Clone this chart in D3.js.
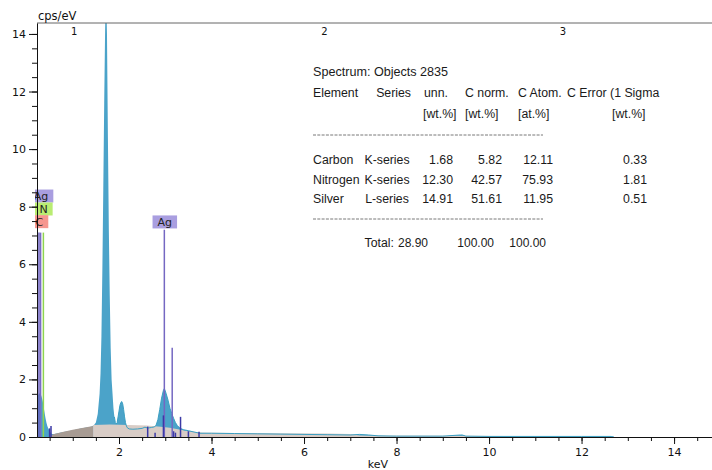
<!DOCTYPE html>
<html>
<head>
<meta charset="utf-8">
<script src="https://cdn.jsdelivr.net/npm/d3@7"></script>
<style>
body{margin:0;background:#fff}
svg{display:block}
</style>
</head>
<body>
<div id="chart"></div>
<script>
// measured spectrum (keV, cps/eV)
const energy = [0.23,0.25,0.27,0.29,0.31,0.33,0.35,0.37,0.39,0.41,0.43,0.45,0.47,0.49,0.51,0.53,0.55,
  0.6,0.7,0.8,0.9,1.0,1.1,1.2,1.3,1.4,
  1.46,1.50,1.54,1.58,
  1.60,1.62,1.64,1.66,1.68,1.70,1.72,1.74,1.76,1.78,1.80,1.82,1.84,1.86,1.88,1.90,1.92,1.94,1.96,1.98,
  2.00,2.02,2.04,2.06,2.08,2.10,2.12,2.14,2.16,2.18,
  2.22,2.30,2.40,2.50,2.56,2.62,2.70,2.76,2.80,2.84,2.88,2.92,2.96,2.98,3.00,3.02,3.06,3.10,3.14,3.18,3.22,3.26,3.32,3.40,3.50,3.60,3.75,
  4.0,4.5,5.0,5.5,6.0,6.5,7.0,7.2,7.4,7.6,8.0,9.0,9.38,9.42,9.5,10,12,12.64,12.7,14.8];
const counts = [1.3,1.45,1.5,1.52,1.48,1.38,1.25,1.05,0.85,0.66,0.5,0.38,0.3,0.24,0.18,0.13,0.1,
  0.1,0.14,0.17,0.2,0.23,0.27,0.3,0.33,0.36,
  0.42,0.5,0.8,1.5,
  2.2,3.5,5.8,8.6,11.6,14.2,15.4,14.0,10.4,7.2,4.9,3.1,2.0,1.5,1.0,0.7,0.5,0.45,0.5,0.7,
  0.9,1.1,1.2,1.23,1.15,0.95,0.7,0.5,0.38,0.32,
  0.28,0.27,0.28,0.3,0.34,0.31,0.33,0.35,0.4,0.6,0.95,1.35,1.62,1.68,1.6,1.5,1.28,1.0,0.82,0.65,0.5,0.4,0.3,0.25,0.22,0.18,0.13,
  0.13,0.12,0.11,0.1,0.09,0.08,0.07,0.09,0.07,0.04,0.03,0.03,0.07,0.07,0.03,0.02,0.02,0.02,0,0];

// background (bremsstrahlung) fit, two shaded regions
const bgLowE = [0.5,0.6,0.8,1.0,1.2,1.44];
const bgLowC = [0.04,0.1,0.18,0.25,0.31,0.38];
const bgHighE = [1.44,1.8,2.2,2.6,2.9,3.1,3.3,3.5,3.8,4.5,5.5,6.5,7.0,7.2,9.0,11.0,12.64];
const bgHighC = [0.42,0.43,0.42,0.4,0.36,0.32,0.26,0.2,0.16,0.14,0.13,0.12,0.1,0.05,0.04,0.03,0.03];

// element lines
const lineEnergy = [0.27,0.305,0.365,2.98,3.15];
const lineHeight = [7.1,7.1,7.1,7.2,3.1];
const lineColor  = ["#6a5fbe","#7a6cc6","#8fd44f","#7568c2","#7568c2"];
const minorEnergy = [0.5,0.53,2.62,2.78,2.96,3.18,3.22,3.33,3.5,3.73];
const minorHeight = [0.3,0.38,0.36,0.15,0.75,0.2,0.15,0.7,0.2,0.18];

// element labels
const labelText   = ["Ag","N","C","Ag"];
const labelEnergy = [0.315,0.368,0.28,2.99];
const labelLevel  = [8.37,7.92,7.48,7.47];
const labelFill   = ["#a99ee0","#b9ec72","#f6968f","#a99ee0"];

const topMarks = ["1","2","3"];
const topMarkEnergy = [1.03,6.44,11.6];

// quantification table
const tableTitle = "Spectrum: Objects 2835";
const tableHead1 = ["Element","Series","unn.","C norm.","C Atom.","C Error (1 Sigma"];
const tableHead2 = ["[wt.%]","[wt.%]","[at.%]","[wt.%]"];
const tableElements = ["Carbon","Nitrogen","Silver"];
const tableSeries = ["K-series","K-series","L-series"];
const tableUnn = ["1.68","12.30","14.91"];
const tableNorm = ["5.82","42.57","51.61"];
const tableAtom = ["12.11","75.93","11.95"];
const tableErr = ["0.33","1.81","0.51"];
const tableTotal = ["Total:","28.90","100.00","100.00"];

const width = 712, height = 470;
const margin = {top: 23, right: 0, bottom: 33, left: 37};

const x = d3.scaleLinear().domain([0.227, 14.82]).range([margin.left, width - margin.right]);
const y = d3.scaleLinear().domain([0, 14.38]).range([height - margin.bottom, margin.top]);

const svg = d3.select("#chart").append("svg")
  .attr("width", width).attr("height", height)
  .style("font-family", "'DejaVu Sans', sans-serif");

svg.append("clipPath").attr("id", "plot-clip")
  .append("rect")
  .attr("x", margin.left).attr("y", margin.top)
  .attr("width", width - margin.left - margin.right)
  .attr("height", height - margin.top - margin.bottom);

const plot = svg.append("g").attr("clip-path", "url(#plot-clip)");

const spectrum = energy.map((e, i) => ({e: e, c: counts[i]}));
const bgLow = bgLowE.map((e, i) => ({e: e, c: bgLowC[i]}));
const bgHigh = bgHighE.map((e, i) => ({e: e, c: bgHighC[i]}));

const area = d3.area().x(d => x(d.e)).y0(y(0)).y1(d => y(d.c));
const line = d3.line().x(d => x(d.e)).y(d => y(d.c));

plot.append("path").datum(spectrum)
  .attr("d", area)
  .attr("fill", "#4ba3c9");

plot.append("path").datum(bgLow).attr("d", area).attr("fill", "#a79b93");
plot.append("path").datum(bgHigh).attr("d", area).attr("fill", "#d8ccc6");

plot.append("path").datum(spectrum.filter(d => d.e >= 1.9 && d.e <= 12.7))
  .attr("d", line)
  .attr("fill", "none")
  .attr("stroke", "#3b9fc2")
  .attr("stroke-width", 1);

// element lines
plot.selectAll("line.el")
  .data(lineEnergy)
  .join("line")
  .attr("class", "el")
  .attr("x1", d => x(d)).attr("x2", d => x(d))
  .attr("y1", y(0)).attr("y2", (d, i) => y(lineHeight[i]))
  .attr("stroke", (d, i) => lineColor[i])
  .attr("stroke-width", 1.5);

plot.selectAll("line.minor")
  .data(minorEnergy)
  .join("line")
  .attr("class", "minor")
  .attr("x1", d => x(d)).attr("x2", d => x(d))
  .attr("y1", y(0)).attr("y2", (d, i) => y(minorHeight[i]))
  .attr("stroke", "#3c3aa6")
  .attr("stroke-width", 1.5);

// labels (clipped a little left of the axis)
svg.append("clipPath").attr("id", "label-clip")
  .append("rect").attr("x", 35).attr("y", 0).attr("width", width).attr("height", height);

const labels = svg.append("g").attr("clip-path", "url(#label-clip)")
  .selectAll("g").data(labelText).join("g")
  .attr("transform", (d, i) => `translate(${x(labelEnergy[i])},${y(labelLevel[i])})`);

labels.append("text")
  .attr("class", "lbl")
  .attr("text-anchor", "middle")
  .attr("dy", "0.35em")
  .attr("font-size", 11)
  .attr("fill", "#222")
  .text(d => d);

labels.each(function(d, i) {
  const g = d3.select(this);
  const w = g.select("text").node().getComputedTextLength() + 10;
  g.insert("rect", "text")
    .attr("x", -w / 2).attr("y", -6.5)
    .attr("width", w).attr("height", 13)
    .attr("fill", labelFill[i]);
});

// axes
const yMajor = d3.axisLeft(y).tickValues(d3.range(0, 14.01, 2)).tickSize(8).tickSizeOuter(0);
const yMinor = d3.axisLeft(y).tickValues(d3.range(0.5, 14.01, 0.5)).tickSize(5).tickSizeOuter(0).tickFormat("");
const xMajor = d3.axisBottom(x).tickValues(d3.range(2, 14.01, 2)).tickSize(7).tickSizeOuter(0);
const xMinor = d3.axisBottom(x).tickValues(d3.range(0.5, 14.76, 0.5)).tickSize(4).tickSizeOuter(0).tickFormat("");

const gy = svg.append("g").attr("transform", `translate(${margin.left},0)`);
gy.call(yMinor);
gy.append("g").call(yMajor);
const gx = svg.append("g").attr("transform", `translate(0,${height - margin.bottom})`);
gx.call(xMinor);
gx.append("g").call(xMajor);

svg.selectAll(".tick text").attr("font-size", 11).attr("fill", "#111").attr("font-family", "'DejaVu Sans', sans-serif");
gy.selectAll(".tick text").attr("x", -11);
gx.selectAll(".tick text").attr("y", 11);
svg.selectAll(".domain, .tick line").attr("stroke", "#111");

// top frame line
svg.append("line")
  .attr("x1", margin.left).attr("x2", width)
  .attr("y1", margin.top).attr("y2", margin.top)
  .attr("stroke", "#666").attr("stroke-width", 1);

svg.append("text").attr("x", 38).attr("y", 20).attr("font-size", 11.5).attr("fill", "#111").text("cps/eV");
svg.append("text").attr("x", 378).attr("y", 468).attr("font-size", 11).attr("text-anchor", "middle").attr("fill", "#111").text("keV");

svg.selectAll("text.top").data(topMarks).join("text")
  .attr("class", "top")
  .attr("x", (d, i) => x(topMarkEnergy[i]))
  .attr("y", 35)
  .attr("text-anchor", "middle")
  .attr("font-size", 10)
  .attr("fill", "#111")
  .text(d => d);

// table
const table = svg.append("g")
  .style("font-family", "'Liberation Sans', Arial, sans-serif")
  .style("font-size", "12.3px")
  .attr("fill", "#1a1a1a");

const cell = (t, px, py, anchor) => table.append("text").attr("x", px).attr("y", py).attr("text-anchor", anchor || "start").text(t);

cell(tableTitle, 313, 76).style("font-size", "12.6px");
const head1X = [313, 411, 424, 465, 518, 567];
const head1A = ["start", "end", "start", "start", "start", "start"];
tableHead1.forEach((t, i) => cell(t, head1X[i], 96.5, head1A[i]));
const head2X = [423, 465, 518, 612];
tableHead2.forEach((t, i) => cell(t, head2X[i], 117.5));

const dash = (py) => table.append("line")
  .attr("x1", 313).attr("x2", 543).attr("y1", py).attr("y2", py)
  .attr("stroke", "#555").attr("stroke-width", 0.8).attr("stroke-dasharray", "3,1.3");
dash(135);
dash(219);

const rowY = [164, 183.5, 203];
tableElements.forEach((t, i) => {
  cell(t, 313, rowY[i]);
  cell(tableSeries[i], 387, rowY[i], "middle");
  cell(tableUnn[i], 453, rowY[i], "end");
  cell(tableNorm[i], 502, rowY[i], "end");
  cell(tableAtom[i], 553, rowY[i], "end");
  cell(tableErr[i], 647, rowY[i], "end");
});

const totalX = [394, 428, 494, 546];
const totalA = ["end", "end", "end", "end"];
tableTotal.forEach((t, i) => cell(t, totalX[i], 246.5, totalA[i]).style("font-size", i ? "12px" : null));
</script>
</body>
</html>
